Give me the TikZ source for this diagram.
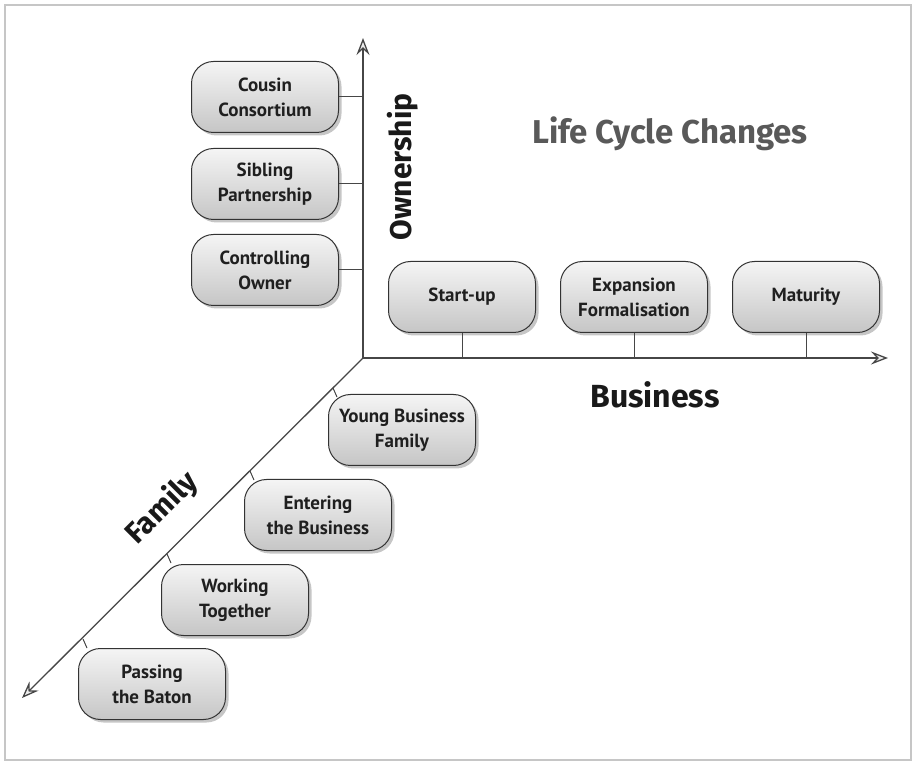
\documentclass[tikz,border=0pt]{standalone}
\usepackage{fontspec}
\setmainfont{PT Sans}
\newfontfamily\headfont{Fira Sans}
\usetikzlibrary{shadows,arrows.meta}
\begin{document}
\begin{tikzpicture}[x=1pt,y=1pt,
  stagebox/.style={rounded corners=22pt, minimum width=147pt, minimum height=71pt,
    draw=black!80, line width=1pt, top color=gray!8, bottom color=gray!45,
    drop shadow={shadow xshift=3pt, shadow yshift=-3pt, opacity=0.45},
    align=center, font=\bfseries\fontsize{19}{25}\selectfont, text=black!88, inner sep=0pt},
  axisline/.style={draw=gray!55!black, line width=1.3pt,
    -{Stealth[length=17pt,width=13pt,inset=6pt,fill=gray!15]}},
  tickline/.style={draw=gray!55!black, line width=1pt},
  axislabel/.style={font=\headfont\bfseries\fontsize{30}{36}\selectfont, text=black!90},
]
\useasboundingbox (0,0) rectangle (916,764);
\draw[gray!45, line width=2pt] (5,4) rectangle (911,759);

% axes
\coordinate (O) at (363,406);
\coordinate (Otop) at (363,726);
\coordinate (Oright) at (888,406);
\coordinate (Oleft) at (22,66);
\draw[axisline] (O) -- (Otop);
\draw[axisline] (O) -- (Oright);
\draw[axisline] (O) -- (Oleft);

% ownership boxes
\node[stagebox] (cc) at (265,667) {Cousin\\Consortium};
\node[stagebox] (sp) at (265,580) {Sibling\\Partnership};
\node[stagebox] (co) at (265,494) {Controlling\\Owner};
\draw[tickline] (cc.east) -- (cc.east -| O);
\draw[tickline] (sp.east) -- (sp.east -| O);
\draw[tickline] (co.east) -- (co.east -| O);

% business boxes
\node[stagebox] (su) at (462,467) {Start-up};
\node[stagebox] (ex) at (634,467) {Expansion\\Formalisation};
\node[stagebox] (ma) at (806,467) {Maturity};
\draw[tickline] (su.south) -- (su.south |- O);
\draw[tickline] (ex.south) -- (ex.south |- O);
\draw[tickline] (ma.south) -- (ma.south |- O);

% family boxes
\node[stagebox] (yb) at (402,334) {Young Business\\Family};
\node[stagebox] (eb) at (318,249) {Entering\\the Business};
\node[stagebox] (wt) at (235,164) {Working\\Together};
\node[stagebox] (pb) at (152,80) {Passing\\the Baton};
\coordinate (t1) at (333,376); \coordinate (t1e) at (337,367);
\coordinate (t2) at (250,293); \coordinate (t2e) at (254,284);
\coordinate (t3) at (167,210); \coordinate (t3e) at (171,201);
\coordinate (t4) at (83,125);  \coordinate (t4e) at (87,116);
\draw[tickline] (t1) -- (t1e);
\draw[tickline] (t2) -- (t2e);
\draw[tickline] (t3) -- (t3e);
\draw[tickline] (t4) -- (t4e);

% labels
\node[axislabel, rotate=90] (own) at (403,597) {Ownership};
\node[axislabel, font=\headfont\bfseries\fontsize{32}{38}\selectfont] (bus) at (655,369) {Business};
\node[axislabel, rotate=45] (fam) at (162,256) {Family};
\node[font=\headfont\bfseries\fontsize{33}{38}\selectfont, text=gray!70!black] (title) at (670,630) {Life Cycle Changes};
\end{tikzpicture}
\end{document}
